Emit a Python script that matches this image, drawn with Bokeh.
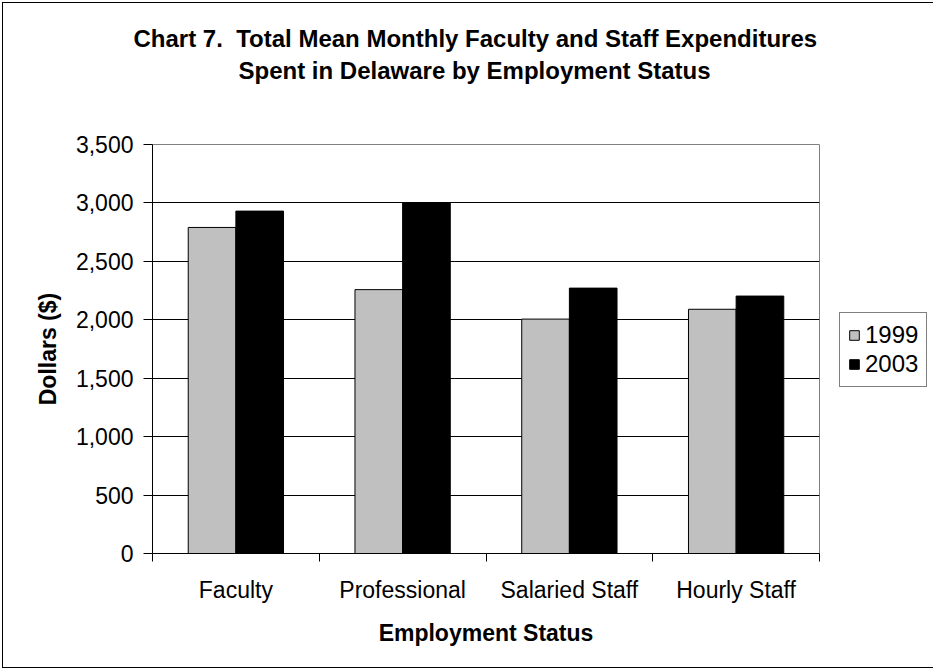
import numpy as np
from bokeh.plotting import figure
from bokeh.models import (Range1d, FixedTicker, NumeralTickFormatter, Legend, LegendItem,
                          ColumnDataSource, Title, LinearAxis)
from bokeh.embed import file_html
from bokeh.resources import INLINE

# ---- data ----
categories = ["Faculty", "Professional", "Salaried Staff", "Hourly Staff"]
years = ["1999", "2003"]
values_1999 = [2790, 2258, 2006, 2090]
values_2003 = [2930, 3000, 2271, 2203]
y_ticks = [0, 500, 1000, 1500, 2000, 2500, 3000, 3500]
title_lines = ["Chart 7.\u00a0 Total Mean Monthly Faculty and Staff Expenditures",
               "Spent in Delaware by Employment Status"]

FONT = "Liberation Sans"
bar_w = 1 / 3.5  # Excel gap width 150%
idx = np.arange(len(categories))
centers = idx + 0.5

p = figure(width=926, height=664, output_backend="svg", toolbar_location=None,
           title_location=None,
           x_range=Range1d(0, len(categories)), y_range=Range1d(0, 3500),
           min_border_left=149, min_border_right=110, min_border_top=141, min_border_bottom=114,
           frame_width=667, frame_height=409)
p.styles = {"border": "1px solid black", "margin-left": "2px", "margin-top": "2px"}

src99 = ColumnDataSource(dict(x=centers - bar_w / 2, top=values_1999))
src03 = ColumnDataSource(dict(x=centers + bar_w / 2, top=values_2003))
r1 = p.vbar(x="x", top="top", width=bar_w, source=src99, fill_color="#C0C0C0",
            line_color="black", line_width=1)
r2 = p.vbar(x="x", top="top", width=bar_w, source=src03, fill_color="black",
            line_color="black", line_width=1)

xa = p.below[0]
ya = p.left[0]

# blank spacer between frame and title: one invisible tick, no label text
mid = len(categories) / 2
spacer = LinearAxis(ticker=FixedTicker(ticks=[mid]), major_tick_out=61, major_tick_in=0,
                    minor_tick_out=0, minor_tick_in=0, axis_line_color=None,
                    major_tick_line_color=None, minor_tick_line_color=None,
                    major_label_standoff=0, major_label_overrides={mid: ""})
p.add_layout(spacer, "above")

# titles (first added = closest to the frame)
for txt, so, off in [(title_lines[1], 0, 86), (title_lines[0], 6, -19)]:
    t = Title(text=txt, align="left", text_font=FONT, text_font_size="24px",
              text_font_style="bold", text_color="black", standoff=so, offset=off)
    p.add_layout(t, "above")

# frame
p.outline_line_color = "#808080"
p.outline_line_width = 1
p.background_fill_color = "white"
p.border_fill_color = "white"

# grid
p.xgrid.visible = False
p.ygrid.ticker = FixedTicker(ticks=y_ticks)
p.ygrid.grid_line_color = "black"
p.ygrid.grid_line_width = 1

# y axis
ya.ticker = FixedTicker(ticks=y_ticks)
ya.formatter = NumeralTickFormatter(format="0,0")
ya.axis_label = "Dollars ($)"
ya.axis_label_text_font = FONT
ya.axis_label_text_font_size = "23px"
ya.axis_label_text_font_style = "bold"
ya.axis_label_text_color = "black"
ya.axis_label_standoff = 12
ya.major_label_text_font = FONT
ya.major_label_text_font_size = "23px"
ya.major_label_text_color = "black"
ya.major_tick_out = 9
ya.major_tick_in = 0
ya.minor_tick_out = 0
ya.minor_tick_in = 0
ya.major_label_standoff = 10
ya.axis_line_color = "black"
ya.major_tick_line_color = "black"

# x axis
xa.ticker = FixedTicker(ticks=list(centers), minor_ticks=list(np.arange(len(categories) + 1)))
xa.major_label_overrides = {float(c): name for c, name in zip(centers, categories)}
xa.axis_label = "Employment Status"
xa.axis_label_text_font = FONT
xa.axis_label_text_font_size = "23px"
xa.axis_label_text_font_style = "bold"
xa.axis_label_text_color = "black"
xa.axis_label_standoff = 14
xa.major_label_text_font = FONT
xa.major_label_text_font_size = "23px"
xa.major_label_text_color = "black"
xa.major_tick_out = 0
xa.major_tick_in = 0
xa.minor_tick_out = 8
xa.minor_tick_in = 0
xa.minor_tick_line_color = "black"
xa.major_label_standoff = 15
xa.axis_line_color = "black"

# legend
legend = Legend(items=[LegendItem(label=years[0], renderers=[r1]),
                       LegendItem(label=years[1], renderers=[r2])],
                location=(20, 166), orientation="vertical")
legend.label_text_font = FONT
legend.label_text_font_size = "24px"
legend.label_text_color = "black"
legend.glyph_width = 12
legend.glyph_height = 12
legend.label_height = 24
legend.label_standoff = 5
legend.spacing = 1
legend.padding = 8
legend.margin = 0
legend.border_line_color = "black"
legend.border_line_width = 1
legend.background_fill_color = "white"
p.add_layout(legend, "right")

open("out.html", "w").write(file_html(p, INLINE))
